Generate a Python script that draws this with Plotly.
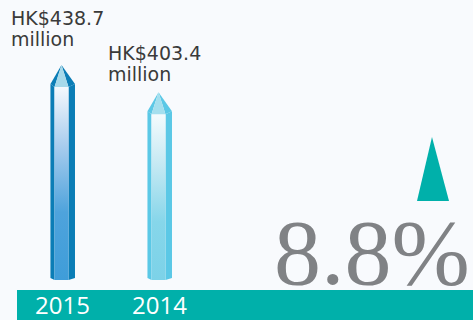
import plotly.graph_objects as go

# ---------------- data ----------------
YEARS = ["2015", "2014"]
VALUES = [438.7, 403.4]            # HK$ million
UNIT_PREFIX = "HK$"
UNIT_SUFFIX = "million"

# ---------------- style ----------------
BG = "#f8fafd"
TEAL = "#00b0aa"
GREY = "#808285"
TEXT = "#3a3a3a"
SANS = "DejaVu Sans"
SERIF = "Liberation Serif"
BAR_BASE = 160.0
Y_RANGE = [108.15, 523.0]
X_RANGE = [-0.644, 4.232]
BAR_STYLE = [
    dict(side="#0b7db6", tip="#a6d9ea",
         grad=[[0, "#3f9dd9"], [0.35, "#4ea3dc"], [0.7, "#a9cdee"], [1, "#f5f9fd"]]),
    dict(side="#5bc8e6", tip="#a4dfee",
         grad=[[0, "#7cd2e8"], [0.35, "#86d6ea"], [0.7, "#c6e9f3"], [1, "#f4fbfd"]]),
]
XL, XS, XF, XR, XA = -0.124, -0.082, 0.062, 0.129, -0.01
SH_OUT, SH_IN, BOT = 24.6, 28.5, 2.6
LABEL_XSHIFT = -53
LABEL_YSHIFT = [60, 52]
LINE_GAP = 20.5

fig = go.Figure()


def poly(xs, ys, **kw):
    fig.add_trace(go.Scatter(x=xs + [xs[0]], y=ys + [ys[0]], mode="lines",
                             line=dict(width=0), fill="toself",
                             hoverinfo="skip", showlegend=False, **kw))


for i, (yr, v) in enumerate(zip(YEARS, VALUES)):
    st = BAR_STYLE[i]
    b = BAR_BASE
    poly([i + XL, i + XL, i + XS, i + XS], [b + BOT, v - SH_OUT, v - SH_IN, b],
         fillcolor=st["side"])
    poly([i + XF, i + XF, i + XR, i + XR], [b, v - SH_IN, v - SH_OUT, b + BOT],
         fillcolor=st["side"])
    poly([i + XS, i + XS, i + XF, i + XF], [b, v - SH_IN, v - SH_IN, b],
         fillgradient=dict(type="vertical", colorscale=st["grad"],
                           start=b, stop=v - SH_IN))
    poly([i + XA, i + XL, i + XS], [v, v - SH_OUT, v - SH_IN], fillcolor=st["side"])
    poly([i + XA, i + XF, i + XR], [v, v - SH_IN, v - SH_OUT], fillcolor=st["side"])
    poly([i + XA, i + XS, i + XF], [v, v - SH_IN, v - SH_IN], fillcolor=st["tip"])

annotations = []
for i, (yr, v) in enumerate(zip(YEARS, VALUES)):
    annotations.append(dict(x=i, y=v, xref="x", yref="y", text=f"{UNIT_PREFIX}{v:.1f}",
                            xanchor="left", yanchor="top", xshift=LABEL_XSHIFT,
                            yshift=LABEL_YSHIFT[i], showarrow=False,
                            font=dict(family=SANS, size=19, color=TEXT)))
    annotations.append(dict(x=i, y=v, xref="x", yref="y", text=UNIT_SUFFIX,
                            xanchor="left", yanchor="top", xshift=LABEL_XSHIFT,
                            yshift=LABEL_YSHIFT[i] - LINE_GAP, showarrow=False,
                            font=dict(family=SANS, size=19, color=TEXT)))
    annotations.append(dict(x=i, y=0.05, xref="x", yref="paper", text=yr,
                            xanchor="center", yanchor="middle", showarrow=False,
                            font=dict(family="Open Sans", size=24, color="white")))

change = (VALUES[0] / VALUES[1] - 1) * 100
annotations.append(dict(x=0.998, y=0.045, xref="paper", yref="paper",
                        text=f"{change:.1f}%", xanchor="right", yanchor="bottom",
                        showarrow=False,
                        font=dict(family=SERIF, size=94, color=GREY)))

shapes = [
    dict(type="rect", xref="paper", yref="paper", x0=17 / 473, x1=1, y0=0, y1=30 / 320,
         fillcolor=TEAL, line=dict(width=0), layer="below"),
    dict(type="path", xref="paper", yref="paper",
         path="M 0.9133 0.5719 L 0.9493 0.3719 L 0.8816 0.3719 Z",
         fillcolor=TEAL, line=dict(width=0)),
]

fig.update_layout(
    width=473, height=320, margin=dict(l=0, r=0, t=0, b=0),
    paper_bgcolor=BG, plot_bgcolor=BG, showlegend=False,
    xaxis=dict(range=X_RANGE, visible=False, fixedrange=True),
    yaxis=dict(range=Y_RANGE, visible=False, fixedrange=True),
    annotations=annotations, shapes=shapes,
)

fig.write_html("out.html")
